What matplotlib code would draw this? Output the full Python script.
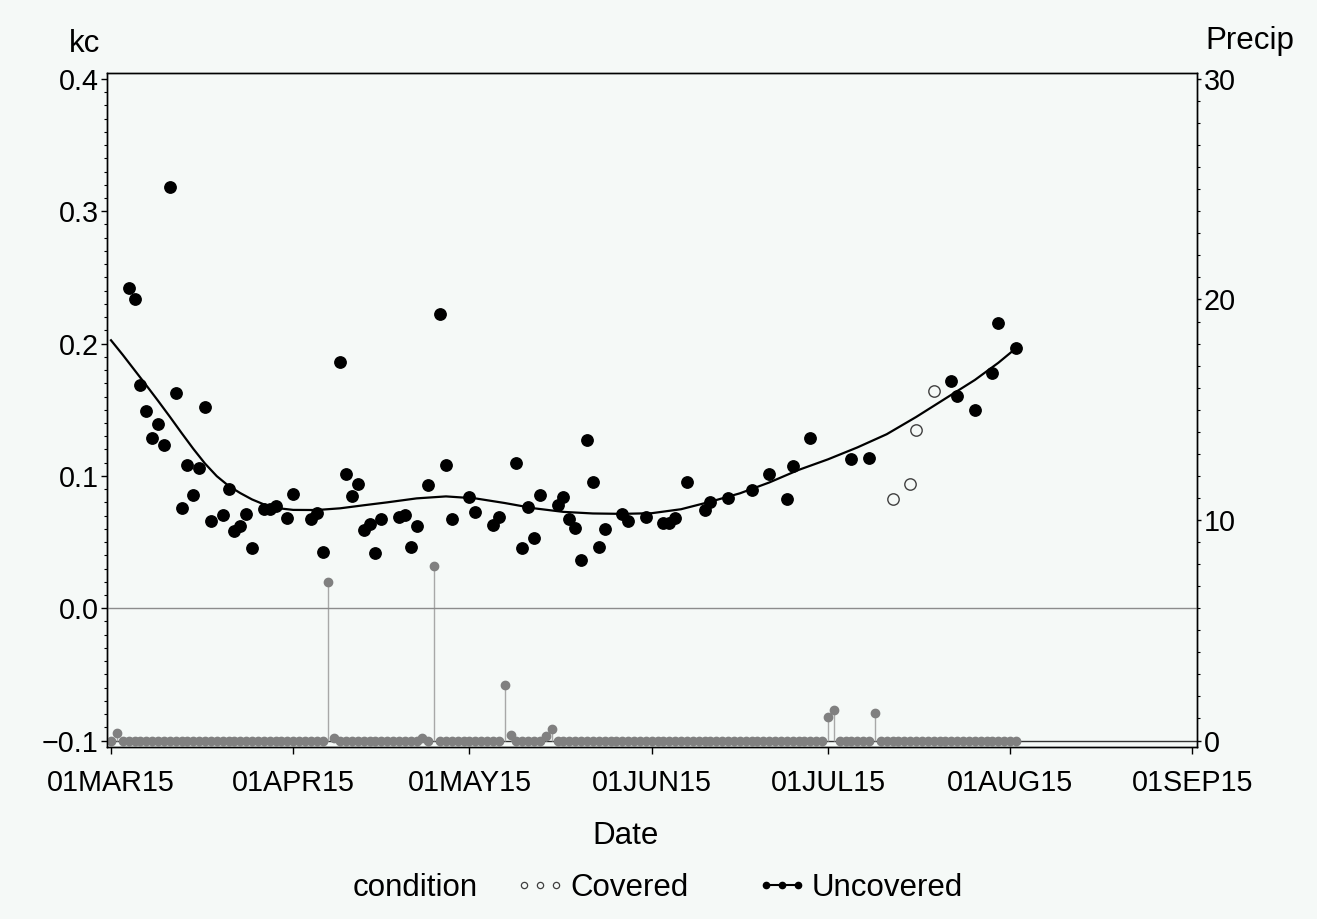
import matplotlib
matplotlib.use('Agg')
import matplotlib.pyplot as plt
import matplotlib.dates as mdates
from matplotlib.lines import Line2D
from matplotlib.ticker import MultipleLocator
import pandas as pd

plt.rcParams['font.family'] = ['Liberation Sans', 'DejaVu Sans']

# ---------------- data ----------------
uncovered_dates = [
    '2015-03-04', '2015-03-05', '2015-03-06', '2015-03-07', '2015-03-08', '2015-03-09',
    '2015-03-10', '2015-03-11', '2015-03-12', '2015-03-13', '2015-03-14', '2015-03-15',
    '2015-03-16', '2015-03-17', '2015-03-18', '2015-03-20', '2015-03-21', '2015-03-22',
    '2015-03-23', '2015-03-24', '2015-03-25', '2015-03-27', '2015-03-28', '2015-03-29',
    '2015-03-31', '2015-04-01', '2015-04-04', '2015-04-05', '2015-04-06', '2015-04-09',
    '2015-04-10', '2015-04-11', '2015-04-12', '2015-04-13', '2015-04-14', '2015-04-15',
    '2015-04-16', '2015-04-19', '2015-04-20', '2015-04-21', '2015-04-22', '2015-04-24',
    '2015-04-26', '2015-04-27', '2015-04-28', '2015-05-01', '2015-05-02', '2015-05-05',
    '2015-05-06', '2015-05-09', '2015-05-10', '2015-05-11', '2015-05-12', '2015-05-13',
    '2015-05-16', '2015-05-17', '2015-05-18', '2015-05-19', '2015-05-20', '2015-05-21',
    '2015-05-22', '2015-05-23', '2015-05-24', '2015-05-27', '2015-05-28', '2015-05-31',
    '2015-06-03', '2015-06-04', '2015-06-05', '2015-06-07', '2015-06-10', '2015-06-11',
    '2015-06-14', '2015-06-18', '2015-06-21', '2015-06-24', '2015-06-25', '2015-06-28',
    '2015-07-05', '2015-07-08', '2015-07-22', '2015-07-23', '2015-07-26', '2015-07-29',
    '2015-07-30', '2015-08-02',
]
uncovered_kc = [
    0.242, 0.234, 0.169, 0.149, 0.129, 0.139,
    0.123, 0.318, 0.163, 0.0757, 0.108, 0.0856,
    0.106, 0.152, 0.066, 0.0707, 0.0899, 0.0583,
    0.0624, 0.0715, 0.0458, 0.075, 0.075, 0.0772,
    0.0685, 0.0866, 0.0672, 0.0722, 0.0422, 0.186,
    0.1017, 0.0848, 0.0936, 0.059, 0.064, 0.0414,
    0.0677, 0.0692, 0.0704, 0.046, 0.062, 0.0931,
    0.2225, 0.108, 0.0677, 0.084, 0.0727, 0.063,
    0.0687, 0.1095, 0.0458, 0.0762, 0.0528, 0.0859,
    0.0778, 0.0843, 0.0672, 0.0603, 0.0361, 0.127,
    0.0954, 0.0462, 0.0598, 0.0715, 0.0662, 0.0692,
    0.0644, 0.0644, 0.0685, 0.0954, 0.074, 0.0806,
    0.0836, 0.0891, 0.1017, 0.0828, 0.1073, 0.1287,
    0.1128, 0.1135, 0.1718, 0.1607, 0.1499, 0.1781,
    0.2155, 0.1963,
]

covered_dates = ['2015-07-12', '2015-07-15', '2015-07-16', '2015-07-19']
covered_kc = [0.0825, 0.0939, 0.135, 0.1645]

# smoothed (loess) curve
fit_dates = [
    '2015-03-01', '2015-03-03', '2015-03-05', '2015-03-07', '2015-03-09', '2015-03-11',
    '2015-03-13', '2015-03-15', '2015-03-17', '2015-03-19', '2015-03-21', '2015-03-23',
    '2015-03-25', '2015-03-27', '2015-03-29', '2015-04-01', '2015-04-05', '2015-04-09',
    '2015-04-13', '2015-04-17', '2015-04-22', '2015-04-27', '2015-05-02', '2015-05-07',
    '2015-05-12', '2015-05-17', '2015-05-22', '2015-05-27', '2015-06-01', '2015-06-06',
    '2015-06-11', '2015-06-16', '2015-06-21', '2015-06-26', '2015-07-01', '2015-07-06',
    '2015-07-11', '2015-07-16', '2015-07-21', '2015-07-26', '2015-07-30', '2015-08-02',
]
fit_kc = [
    0.2025, 0.1915, 0.1800, 0.1685, 0.1568, 0.1448,
    0.1325, 0.1205, 0.1093, 0.0998, 0.0925, 0.0870,
    0.0822, 0.0785, 0.0758, 0.0743, 0.0742, 0.0755,
    0.0778, 0.0800, 0.083, 0.0845, 0.083, 0.0795,
    0.0755, 0.0728, 0.0716, 0.0713, 0.0718, 0.0748,
    0.0805, 0.0868, 0.0950, 0.1045, 0.1125, 0.1215,
    0.1315, 0.1445, 0.1585, 0.1725, 0.1855, 0.1965,
]

# daily precipitation, 01MAR15 - 02AUG15 (days not listed are 0)
precip_start = '2015-03-01'
precip_end = '2015-08-02'
precip_nonzero = {
    '2015-03-02': 0.36, '2015-04-07': 7.2, '2015-04-08': 0.1, '2015-04-23': 0.1,
    '2015-04-25': 7.9, '2015-05-07': 2.5, '2015-05-08': 0.27, '2015-05-14': 0.2,
    '2015-05-15': 0.5, '2015-07-01': 1.06, '2015-07-02': 1.4, '2015-07-09': 1.26,
}

xtick_dates = ['2015-03-01', '2015-04-01', '2015-05-01', '2015-06-01',
               '2015-07-01', '2015-08-01', '2015-09-01']
xtick_labels = ['01MAR15', '01APR15', '01MAY15', '01JUN15', '01JUL15', '01AUG15', '01SEP15']
kc_ticks = [-0.1, 0.0, 0.1, 0.2, 0.3, 0.4]
kc_tick_labels = ['\u22120.1', '0.0', '0.1', '0.2', '0.3', '0.4']
precip_ticks = [0, 10, 20, 30]

# ---------------- figure ----------------
BG = '#F5F9F7'
fig = plt.figure(figsize=(13.17, 9.19), dpi=100, facecolor=BG)
ax = fig.add_axes([107 / 1317, 1 - 747 / 919, 1090 / 1317, 674 / 919])
ax2 = ax.twinx()

ud = pd.to_datetime(uncovered_dates)
cd = pd.to_datetime(covered_dates)
fd = pd.to_datetime(fit_dates)
pdates = pd.date_range(precip_start, precip_end, freq='D')
pvals = [precip_nonzero.get(d.strftime('%Y-%m-%d'), 0.0) for d in pdates]

# reference line at kc = 0
ax.axhline(0.0, color='#8C8C8C', lw=1.0, zorder=1)

# precipitation needles on secondary axis
ax2.axhline(0.0, color='#333333', lw=1.0, zorder=1)
ax2.vlines(pdates, 0, pvals, color='#A8A8A8', lw=1.0, zorder=2)
ax2.plot(pdates, pvals, ls='none', marker='o', ms=6.0, color='#808080',
         mec='#808080', zorder=3)

# kc points and loess
ax.plot(fd, fit_kc, color='black', lw=1.6, zorder=4)
ax.plot(ud, uncovered_kc, ls='none', marker='o', ms=8.2, color='black', zorder=5)
ax.plot(cd, covered_kc, ls='none', marker='o', ms=8.2, mfc=BG, mec='#404040',
        mew=1.0, zorder=5)
ax.set_zorder(ax2.get_zorder() + 1)
ax.patch.set_visible(False)
ax2.patch.set_facecolor(BG)

# axes limits
x0 = mdates.date2num(pd.Timestamp('2015-03-01')) - 0.68
x1 = mdates.date2num(pd.Timestamp('2015-09-01')) + 0.80
ax.set_xlim(x0, x1)
ax.set_ylim(-0.1049, 0.4045)
ax2.set_ylim(-0.294, 30.27)

FS = 20.7
LFS = 22.5
ax.set_xticks(pd.to_datetime(xtick_dates))
ax.set_xticklabels(xtick_labels, fontsize=FS)
ax.set_yticks(kc_ticks)
ax.set_yticklabels(kc_tick_labels, fontsize=FS)
ax.yaxis.set_minor_locator(MultipleLocator(0.01))
ax2.set_yticks(precip_ticks)
ax2.set_yticklabels([str(t) for t in precip_ticks], fontsize=FS)
ax2.yaxis.set_minor_locator(MultipleLocator(1))

ax.tick_params(axis='x', which='major', direction='out', length=5, width=1, pad=11)
ax.tick_params(axis='y', which='major', direction='out', length=4, width=1, pad=2)
ax.tick_params(axis='y', which='minor', direction='out', length=2.5, width=0.8)
ax2.tick_params(axis='y', which='major', direction='out', length=3, width=1, pad=2)
ax2.tick_params(axis='y', which='minor', direction='out', length=2.5, width=0.8)
for a in (ax, ax2):
    for s in a.spines.values():
        s.set_linewidth(1.0)
        s.set_color('black')

ax.set_xlabel('Date', fontsize=LFS)
ax.xaxis.set_label_coords((626 - 107) / 1090, (747 - 821) / 674)
fig.text(100 / 1317, 1 - 52 / 919, 'kc', fontsize=LFS, ha='right', va='baseline')
fig.text(1205 / 1317, 1 - 49 / 919, 'Precip', fontsize=LFS, ha='left', va='baseline')

# legend
fig.text(415 / 1317, 1 - 888 / 919, 'condition', fontsize=LFS, ha='center', va='center')
h_cov = Line2D([], [], ls='none', marker='o', ms=4.5, mfc=BG, mec='#404040', mew=0.9)
h_unc = Line2D([], [], ls='-', lw=1.5, marker='o', ms=4.5, color='black')
fig.legend([h_cov, h_unc], ['Covered', 'Uncovered'], loc='center left',
           bbox_to_anchor=(515 / 1317, 1 - 888 / 919), ncol=2, frameon=False,
           numpoints=3, handlelength=1.6, handletextpad=0.16, columnspacing=2.2,
           borderpad=0, borderaxespad=0, fontsize=LFS)

fig.savefig('out.png', dpi=100, facecolor=BG)
